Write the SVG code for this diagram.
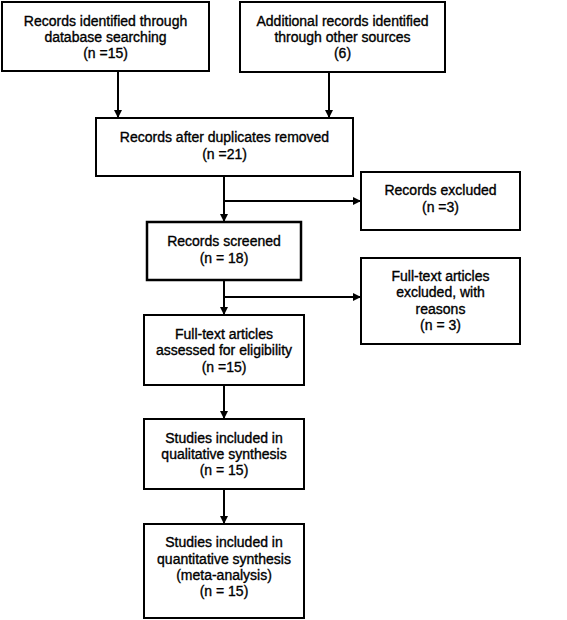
<svg xmlns="http://www.w3.org/2000/svg" width="567" height="620" viewBox="0 0 567 620">
<style>
.box{fill:#fff;stroke:#000;stroke-width:2}
.t{font-family:"Liberation Sans",Arial,sans-serif;font-size:14px;fill:#000;stroke:#000;stroke-width:0.35;text-anchor:middle}
.c{stroke:#000;stroke-width:2;fill:none}
.a{marker-end:url(#ah)}
</style>
<defs>
<marker id="ah" viewBox="0 0 10 10" refX="10" refY="5" markerWidth="4.2" markerHeight="4.2" markerUnits="strokeWidth" orient="auto">
<path d="M0,0 L10,5 L0,10 z" fill="#000"/>
</marker>
</defs>
<rect width="567" height="620" fill="#fff"/>
<g id="connectors">
<line class="c a" x1="118" y1="71" x2="118" y2="118"/>
<line class="c a" x1="329" y1="72" x2="329" y2="118"/>
<line class="c a" x1="224" y1="176" x2="224" y2="222"/>
<line class="c a" x1="224" y1="201" x2="361" y2="201"/>
<line class="c a" x1="224" y1="280" x2="224" y2="315"/>
<line class="c a" x1="224" y1="297" x2="361" y2="297"/>
<line class="c a" x1="224" y1="385" x2="224" y2="419"/>
<line class="c a" x1="224" y1="489" x2="224" y2="524"/>
</g>
<g id="n1">
<rect class="box" x="2" y="2" width="207" height="69"/>
<text class="t" x="105.5" y="26">Records identified through</text>
<text class="t" x="105.5" y="42">database searching</text>
<text class="t" x="105.5" y="58">(n =15)</text>
</g>
<g id="n2">
<rect class="box" x="240" y="2" width="205" height="70"/>
<text class="t" x="342.5" y="26">Additional records identified</text>
<text class="t" x="342.5" y="42">through other sources</text>
<text class="t" x="342.5" y="58">(6)</text>
</g>
<g id="n3">
<rect class="box" x="96" y="118" width="257" height="58"/>
<text class="t" x="224.5" y="142">Records after duplicates removed</text>
<text class="t" x="224.5" y="159">(n =21)</text>
</g>
<g id="n4">
<rect class="box" x="361" y="172" width="159" height="58"/>
<text class="t" x="440.5" y="195">Records excluded</text>
<text class="t" x="440.5" y="212">(n =3)</text>
</g>
<g id="n5">
<rect class="box" x="147" y="222" width="154" height="58" style="stroke-width:2.5"/>
<text class="t" x="224" y="246">Records screened</text>
<text class="t" x="224" y="263">(n = 18)</text>
</g>
<g id="n6">
<rect class="box" x="361" y="258" width="159" height="86"/>
<text class="t" x="440.5" y="280.5">Full-text articles</text>
<text class="t" x="440.5" y="297">excluded, with</text>
<text class="t" x="440.5" y="313.5">reasons</text>
<text class="t" x="440.5" y="330">(n = 3)</text>
</g>
<g id="n7">
<rect class="box" x="144" y="315" width="160" height="70"/>
<text class="t" x="224" y="339">Full-text articles</text>
<text class="t" x="224" y="355">assessed for eligibility</text>
<text class="t" x="224" y="371.5">(n =15)</text>
</g>
<g id="n8">
<rect class="box" x="144" y="419" width="160" height="70"/>
<text class="t" x="224" y="443">Studies included in</text>
<text class="t" x="224" y="459">qualitative synthesis</text>
<text class="t" x="224" y="475">(n = 15)</text>
</g>
<g id="n9">
<rect class="box" x="144" y="524" width="160" height="94"/>
<text class="t" x="224" y="547">Studies included in</text>
<text class="t" x="224" y="563.5">quantitative synthesis</text>
<text class="t" x="224" y="580">(meta-analysis)</text>
<text class="t" x="224" y="596">(n = 15)</text>
</g>
</svg>
